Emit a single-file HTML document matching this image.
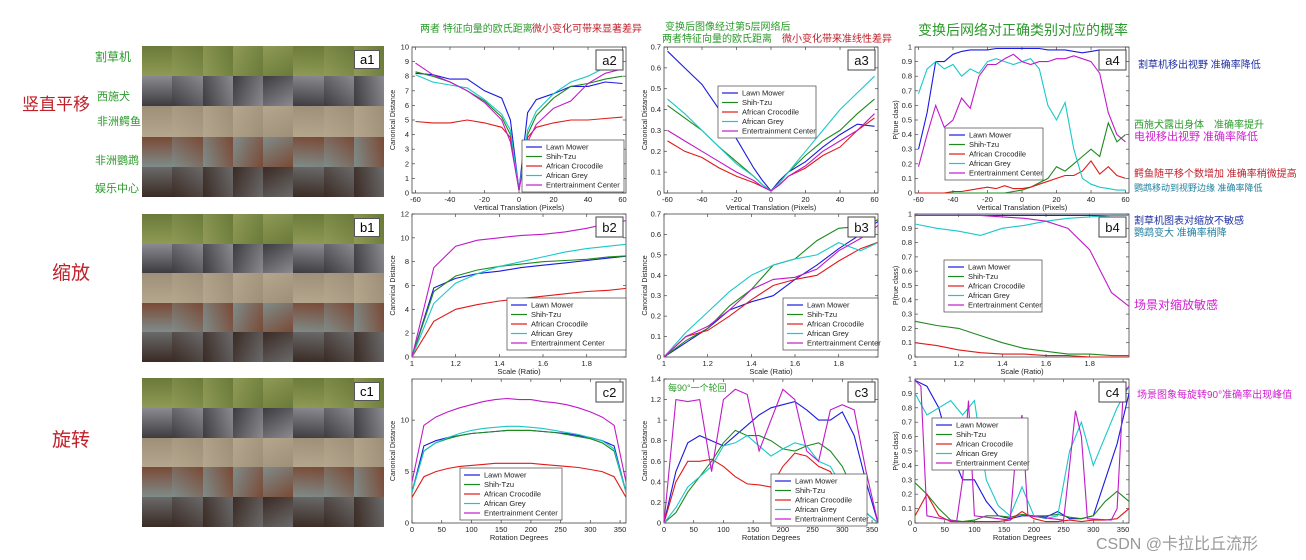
<!DOCTYPE html>
<html><head><meta charset="utf-8"><style>
body{margin:0;background:#fff;width:1306px;height:560px;overflow:hidden;position:relative;font-family:"Liberation Sans","Noto Sans CJK SC",sans-serif}
.hw{position:absolute;font-family:"Liberation Sans","Noto Sans CJK SC",sans-serif;white-space:nowrap}
.grid{position:absolute;display:grid;grid-template-columns:repeat(8,1fr);grid-template-rows:repeat(5,1fr)}
.tag{position:absolute;background:#fff;border:1px solid #555;font-size:13px;padding:1px 5px;font-family:"Liberation Sans",sans-serif}
</style></head><body>
<svg id="chart" width="1306" height="560" style="position:absolute;left:0;top:0"></svg>
<div class="hw" style="left:95px;top:48px;color:#2a9a2a;font-size:12px">割草机</div>
<div class="hw" style="left:97px;top:88px;color:#2a9a2a;font-size:11px">西施犬</div>
<div class="hw" style="left:97px;top:113px;color:#2a9a2a;font-size:11px">非洲鳄鱼</div>
<div class="hw" style="left:95px;top:152px;color:#2a9a2a;font-size:11px">非洲鹦鹉</div>
<div class="hw" style="left:95px;top:180px;color:#2a9a2a;font-size:11px">娱乐中心</div>
<div class="hw" style="left:22px;top:90px;color:#c0202a;font-size:17px">竖直平移</div>
<div class="hw" style="left:52px;top:258px;color:#c0202a;font-size:19px">缩放</div>
<div class="hw" style="left:52px;top:425px;color:#c0202a;font-size:19px">旋转</div>
<div class="hw" style="left:420px;top:20px;color:#2a9a2a;font-size:10px">两者 特征向量的欧氏距离</div>
<div class="hw" style="left:532px;top:20px;color:#c0202a;font-size:10px">微小变化可带来显著差异</div>
<div class="hw" style="left:665px;top:18px;color:#2a9a2a;font-size:10px">变换后图像经过第5层网络后</div>
<div class="hw" style="left:662px;top:30px;color:#2a9a2a;font-size:10px">两者特征向量的欧氏距离</div>
<div class="hw" style="left:782px;top:30px;color:#c0202a;font-size:10px">微小变化带来准线性差异</div>
<div class="hw" style="left:918px;top:20px;color:#2a9a2a;font-size:14px">变换后网络对正确类别对应的概率</div>
<div class="hw" style="left:1138px;top:56px;color:#2030a0;font-size:10px">割草机移出视野 准确率降低</div>
<div class="hw" style="left:1134px;top:116px;color:#2a9a2a;font-size:10px">西施犬露出身体　准确率提升</div>
<div class="hw" style="left:1134px;top:128px;color:#d020d0;font-size:11px">电视移出视野 准确率降低</div>
<div class="hw" style="left:1134px;top:165px;color:#c0202a;font-size:10px">鳄鱼随平移个数增加 准确率稍微提高</div>
<div class="hw" style="left:1134px;top:181px;color:#2080a0;font-size:9px">鹦鹉移动到视野边缘 准确率降低</div>
<div class="hw" style="left:1134px;top:212px;color:#2030a0;font-size:10px">割草机图表对缩放不敏感</div>
<div class="hw" style="left:1134px;top:224px;color:#2080a0;font-size:10px">鹦鹉变大 准确率稍降</div>
<div class="hw" style="left:1134px;top:296px;color:#d020d0;font-size:12px">场景对缩放敏感</div>
<div class="hw" style="left:1137px;top:386px;color:#d020d0;font-size:10px">场景图象每旋转90°准确率出现峰值</div>
<div class="hw" style="left:668px;top:381px;color:#2a9a2a;font-size:9px">每90°一个轮回</div>
<div class="hw" style="left:1096px;top:530px;color:#999;font-size:16px">CSDN @卡拉比丘流形</div>
<script>
const NS='http://www.w3.org/2000/svg';
const svg=document.getElementById('chart');
const names=['Lawn Mower','Shih-Tzu','African Crocodile','African Grey','Entertrainment Center'];
const colors=['#1a1ae0','#1e8a1e','#e01a1a','#1ac8c8','#c01ac8'];
// ---- data ----
const xsTrans=[-60,-50,-40,-30,-20,-10,-5,0,5,10,20,30,40,50,60];
const a2LM=[8.2,8.1,7.8,7.8,7.0,6.5,5.0,0.2,5.5,6.4,6.8,7.3,7.3,7.6,7.5];
const a2ST=[8.3,8.0,7.6,7.0,6.3,5.2,4.0,0.2,4.0,5.3,6.5,7.3,7.5,7.8,8.0];
const a2AC=[4.9,4.8,4.8,5.0,4.8,4.5,3.8,0.2,3.8,4.5,4.8,5.0,5.0,5.1,5.2];
const a2AG=[8.1,7.6,7.4,7.2,6.4,5.4,4.3,0.2,4.3,5.6,6.8,7.6,8.0,8.6,9.0];
const a2EC=[8.9,8.1,7.6,7.0,6.2,5.0,3.5,0.2,3.5,4.7,5.8,6.3,7.5,8.2,8.5];
const a3LM=[0.68,0.6,0.52,0.4,0.26,0.12,0.06,0.01,0.06,0.1,0.15,0.22,0.28,0.33,0.32];
const a3ST=[0.42,0.36,0.3,0.22,0.15,0.08,0.04,0.01,0.05,0.1,0.18,0.25,0.3,0.38,0.45];
const a3AC=[0.25,0.2,0.17,0.12,0.08,0.05,0.03,0.01,0.04,0.08,0.12,0.18,0.22,0.3,0.36];
const a3AG=[0.45,0.38,0.3,0.22,0.14,0.08,0.04,0.01,0.05,0.1,0.2,0.3,0.4,0.48,0.56];
const a3EC=[0.3,0.25,0.2,0.15,0.1,0.06,0.03,0.01,0.04,0.08,0.13,0.2,0.25,0.3,0.38];
const xsTrans5=[-60,-55,-50,-45,-40,-35,-30,-25,-20,-15,-10,-5,0,5,10,15,20,25,30,35,40,45,50,55,60];
const a4LM=[0.3,0.55,0.9,0.9,0.95,0.97,0.98,0.98,0.98,0.99,0.99,0.99,0.99,0.99,0.99,0.98,0.98,0.98,0.97,0.96,0.97,0.98,0.97,0.97,0.97];
const a4ST=[0,0,0,0,0,0,0,0,0,0,0,0.01,0.02,0.04,0.07,0.1,0.18,0.15,0.2,0.25,0.3,0.25,0.48,0.35,0.4];
const a4AC=[0,0,0,0,0.01,0.01,0.02,0.03,0.04,0.03,0.05,0.03,0.03,0.04,0.06,0.08,0.1,0.12,0.12,0.15,0.22,0.13,0.18,0.12,0.1];
const a4AG=[0.68,0.85,0.9,0.85,0.88,0.8,0.85,0.82,0.9,0.92,0.9,0.88,0.9,0.92,0.85,0.6,0.5,0.62,0.3,0.1,0.06,0.04,0.03,0.02,0.02];
const a4EC=[0.18,0.4,0.6,0.45,0.5,0.65,0.58,0.8,0.88,0.88,0.92,0.95,0.9,0.88,0.9,0.9,0.92,0.92,0.94,0.92,0.9,0.82,0.55,0.4,0.35];
const xsScale=[1,1.1,1.2,1.3,1.4,1.5,1.6,1.7,1.8,1.9,2.0];
const b2LM=[0,5.8,6.6,7.0,7.2,7.5,7.7,7.9,8.1,8.3,8.5];
const b2ST=[0,5.5,6.8,7.3,7.6,7.8,8.0,8.1,8.2,8.4,8.5];
const b2AC=[0,3.0,4.0,4.4,4.7,4.9,5.1,5.3,5.5,5.6,5.8];
const b2AG=[0,4.5,6.2,7.0,7.6,8.0,8.4,8.8,9.1,9.3,9.5];
const b2EC=[0,7.5,9.3,9.8,10,10.2,10.3,10.5,10.8,11.2,11.5];
const b3LM=[0,0.07,0.14,0.23,0.27,0.3,0.38,0.45,0.53,0.6,0.68];
const b3ST=[0,0.08,0.14,0.25,0.33,0.45,0.48,0.57,0.63,0.64,0.68];
const b3AC=[0,0.1,0.13,0.2,0.28,0.35,0.38,0.4,0.47,0.53,0.57];
const b3AG=[0,0.12,0.22,0.32,0.4,0.45,0.48,0.5,0.56,0.52,0.57];
const b3EC=[0,0.1,0.15,0.23,0.33,0.38,0.39,0.43,0.52,0.58,0.66];
const b4LM=[0.99,0.99,0.99,0.99,0.99,0.99,0.99,0.99,0.99,0.99,0.99];
const b4ST=[0.25,0.22,0.2,0.15,0.1,0.06,0.04,0.02,0.02,0.01,0.01];
const b4AC=[0.1,0.08,0.05,0.03,0.02,0.02,0.01,0.01,0,0,0];
const b4AG=[0.93,0.9,0.88,0.85,0.9,0.92,0.95,0.97,0.98,0.99,0.99];
const b4EC=[0.99,0.99,0.99,0.99,0.98,0.97,0.95,0.9,0.75,0.45,0.33];
const xsRot=[0,20,40,60,80,100,120,140,160,180,200,220,240,260,280,300,320,340,360];
const c2LM=[3,7.5,8,8.3,8.5,8.7,8.8,8.9,9,9,9,8.9,8.8,8.7,8.5,8.3,8,7.5,3];
const c2ST=[3,7,7.8,8.2,8.5,8.7,8.8,8.9,9,9,9,8.9,8.8,8.6,8.4,8.2,7.8,7,3];
const c2AC=[2.5,4.5,5,5.3,5.5,5.6,5.7,5.8,5.8,5.8,5.8,5.7,5.6,5.5,5.4,5.2,5,4.5,2.5];
const c2AG=[3,7,7.8,8.3,8.7,9,9.2,9.3,9.4,9.4,9.3,9.2,9,8.8,8.6,8.3,8,7.2,3];
const c2EC=[4,9.5,10.3,10.8,11.2,11.5,11.8,12,12.1,12,12,11.8,11.7,11.5,11.2,10.8,10.3,9.5,4];
const c3LM=[0,0.5,0.78,0.85,0.8,0.75,0.85,0.95,1.05,1.12,1.15,1.18,1.1,1.0,1.0,1.08,0.85,0.4,0];
const c3ST=[0,0.1,0.3,0.45,0.6,0.78,0.9,0.85,0.85,0.8,0.72,0.7,0.75,0.78,0.7,0.55,0.3,0.1,0];
const c3AC=[0,0.4,0.6,0.6,0.62,0.55,0.45,0.38,0.37,0.35,0.55,0.68,0.65,0.55,0.5,0.3,0.2,0.1,0];
const c3AG=[0,0.15,0.35,0.45,0.55,0.75,0.78,0.85,0.75,0.65,0.72,0.78,0.75,0.6,0.55,0.35,0.2,0.1,0];
const c3EC=[0,1.2,1.18,1.2,0.5,1.2,1.3,1.25,0.7,1.0,1.3,1.2,0.7,0.6,1.1,1.15,1.1,0.5,0];
const c4LM=[0.99,0.95,0.8,0.5,0.3,0.3,0.15,0.05,0.03,0.05,0.05,0.04,0.08,0.03,0.03,0.05,0.3,0.55,0.9];
const c4ST=[0.28,0.2,0.1,0.02,0.01,0.02,0.05,0.05,0.04,0.06,0.05,0.05,0.06,0.04,0.03,0.05,0.15,0.22,0.15];
const c4AC=[0.05,0.2,0.05,0.01,0.01,0.01,0.01,0.01,0.02,0.08,0.03,0.01,0.01,0.02,0.01,0.02,0.02,0.03,0.1];
const c4AG=[0.9,0.75,0.8,0.85,0.75,0.85,0.3,0.12,0.05,0.25,0.05,0.03,0.05,0.5,0.7,0.4,0.6,0.8,0.95];
const xsRotEC=[0,10,20,70,80,90,100,160,170,180,190,250,260,270,280,290,330,340,350,360];
const c4EC=[0.99,0.95,0.05,0.01,0.3,0.85,0.05,0.02,0.5,0.75,0.05,0.02,0.4,0.78,0.6,0.03,0.02,0.1,0.9,0.95];
const ticksTrans=[-60,-40,-20,0,20,40,60];
const ticksScale=[1,1.2,1.4,1.6,1.8];
const ticksRot=[0,50,100,150,200,250,300,350];
// ---- helpers ----
function mk(tag,attrs,parent){const e=document.createElementNS(NS,tag);for(const k in attrs)e.setAttribute(k,attrs[k]);(parent||svg).appendChild(e);return e;}
function fmt(v){return (Math.round(v*100)/100).toString();}
const defsEl=mk('defs',{});
function chart(c){
  const g=mk('g',{});
  
  
  const sx=v=>c.L+(v-c.xmin)/(c.xmax-c.xmin)*(c.R-c.L);
  const sy=v=>c.B-(v-c.ymin)/(c.ymax-c.ymin)*(c.B-c.T);
  const cp=mk('clipPath',{id:'clip-'+c.id},defsEl);
  mk('rect',{x:c.L,y:c.T-1,width:c.R-c.L,height:c.B-c.T+2},cp);
  mk('rect',{x:c.L,y:c.T,width:c.R-c.L,height:c.B-c.T,fill:'#fff',stroke:'#444','stroke-width':0.8},g);
  c.xt.forEach(t=>{const x=sx(t);mk('line',{x1:x,x2:x,y1:c.B,y2:c.B-3,stroke:'#444','stroke-width':0.7},g);mk('line',{x1:x,x2:x,y1:c.T,y2:c.T+3,stroke:'#444','stroke-width':0.7},g);
    const tx=mk('text',{x:x,y:c.B+9,'font-size':7.5,'text-anchor':'middle',fill:'#222'},g);tx.textContent=fmt(t);});
  c.yt.forEach(t=>{const y=sy(t);mk('line',{x1:c.L,x2:c.L+3,y1:y,y2:y,stroke:'#444','stroke-width':0.7},g);mk('line',{x1:c.R,x2:c.R-3,y1:y,y2:y,stroke:'#444','stroke-width':0.7},g);
    const tx=mk('text',{x:c.L-3,y:y+2.5,'font-size':7.5,'text-anchor':'end',fill:'#222'},g);tx.textContent=fmt(t);});
  const xl=mk('text',{x:(c.L+c.R)/2,y:c.B+17,'font-size':7.5,'text-anchor':'middle',fill:'#222'},g);xl.textContent=c.xlabel;
  
  
  const yl=mk('text',{x:0,y:0,'font-size':7,'text-anchor':'middle',fill:'#222',transform:`translate(${c.L-17},${(c.T+c.B)/2}) rotate(-90)`},g);yl.textContent=c.ylabel;
  
  
  const sg=mk('g',{'clip-path':'url(#clip-'+c.id+')'},g);
  c.series.forEach((s,i)=>{
    const xs=c.xsArr[i]||c.xs;
    const d=s.map((v,j)=>(j?'L':'M')+sx(xs[j]).toFixed(1)+','+sy(v).toFixed(1)).join('');
    const p=mk('path',{d:d,fill:'none',stroke:colors[i],'stroke-width':1.1},sg);
    
    
  });
  const lg=mk('g',{},g);
  
  
  mk('rect',{x:c.lx,y:c.ly,width:c.lw,height:52,fill:'#fff',stroke:'#444','stroke-width':0.7},lg);
  names.forEach((n,i)=>{const y=c.ly+7+i*9.5;mk('line',{x1:c.lx+4,x2:c.lx+20,y1:y,y2:y,stroke:colors[i],'stroke-width':1.2},lg);
    const t=mk('text',{x:c.lx+24,y:y+2.7,'font-size':7.5,fill:'#222'},lg);t.textContent=n;
    
    });
  const tg=mk('g',{},g);
  
  
  mk('rect',{x:c.R-30,y:c.T+3,width:27,height:20,fill:'#fff',stroke:'#444','stroke-width':1},tg);
  const lt=mk('text',{x:c.R-16.5,y:c.T+18,'font-size':13,'text-anchor':'middle',fill:'#111'},tg);lt.textContent=c.id;
}
const cols=[[412,626],[664,878],[915,1129]];
const rows=[[47,193],[214,357],[379,523]];
const ts='Vertical Translation (Pixels)', ss='Scale (Ratio)', rs='Rotation Degrees';
const cd='Canonical Distance', pt='P(true class)';
const y10=[0,1,2,3,4,5,6,7,8,9,10], y07=[0,0.1,0.2,0.3,0.4,0.5,0.6,0.7], y1=[0,0.1,0.2,0.3,0.4,0.5,0.6,0.7,0.8,0.9,1];
const defs=[
 {id:'a2',c:0,r:0,xs:xsTrans,xmin:-62,xmax:62,ymin:0,ymax:10,xt:ticksTrans,yt:y10,xlabel:ts,ylabel:cd,series:[a2LM,a2ST,a2AC,a2AG,a2EC],lx:522,ly:140,lw:102},
 {id:'a3',c:1,r:0,xs:xsTrans,xmin:-62,xmax:62,ymin:0,ymax:0.7,xt:ticksTrans,yt:y07,xlabel:ts,ylabel:cd,series:[a3LM,a3ST,a3AC,a3AG,a3EC],lx:718,ly:86,lw:98},
 {id:'a4',c:2,r:0,xs:xsTrans5,xmin:-62,xmax:62,ymin:0,ymax:1,xt:ticksTrans,yt:y1,xlabel:ts,ylabel:pt,series:[a4LM,a4ST,a4AC,a4AG,a4EC],lx:945,ly:128,lw:98},
 {id:'b2',c:0,r:1,xs:xsScale,xmin:1,xmax:1.98,ymin:0,ymax:12,xt:ticksScale,yt:[0,2,4,6,8,10,12],xlabel:ss,ylabel:cd,series:[b2LM,b2ST,b2AC,b2AG,b2EC],lx:507,ly:298,lw:119},
 {id:'b3',c:1,r:1,xs:xsScale,xmin:1,xmax:1.98,ymin:0,ymax:0.7,xt:ticksScale,yt:y07,xlabel:ss,ylabel:cd,series:[b3LM,b3ST,b3AC,b3AG,b3EC],lx:783,ly:298,lw:95},
 {id:'b4',c:2,r:1,xs:xsScale,xmin:1,xmax:1.98,ymin:0,ymax:1,xt:ticksScale,yt:y1,xlabel:ss,ylabel:pt,series:[b4LM,b4ST,b4AC,b4AG,b4EC],lx:944,ly:260,lw:98},
 {id:'c2',c:0,r:2,xs:xsRot,xmin:0,xmax:360,ymin:0,ymax:14,xt:ticksRot,yt:[0,5,10],xlabel:rs,ylabel:cd,series:[c2LM,c2ST,c2AC,c2AG,c2EC],lx:460,ly:468,lw:102},
 {id:'c3',c:1,r:2,xs:xsRot,xmin:0,xmax:360,ymin:0,ymax:1.4,xt:ticksRot,yt:[0,0.2,0.4,0.6,0.8,1,1.2,1.4],xlabel:rs,ylabel:cd,series:[c3LM,c3ST,c3AC,c3AG,c3EC],lx:771,ly:474,lw:96},
 {id:'c4',c:2,r:2,xs:xsRot,xsArr:[null,null,null,null,xsRotEC],xmin:0,xmax:360,ymin:0,ymax:1,xt:ticksRot,yt:y1,xlabel:rs,ylabel:pt,series:[c4LM,c4ST,c4AC,c4AG,c4EC],lx:932,ly:418,lw:96}
];
defs.forEach(d=>{d.L=cols[d.c][0];d.R=cols[d.c][1];d.T=rows[d.r][0];d.B=rows[d.r][1];d.xsArr=d.xsArr||[];chart(d);});
// image grids
const rowCols=[['#8f9a55','#6a7a3a'],['#3c3c40','#8a8a90'],['#b5a78e','#9e8f78'],['#7f8c8a','#7a4a36'],['#3a2a24','#6a6a6a']];
[[142,46,197,'a1'],[142,214,362,'b1'],[142,378,527,'c1']].forEach(([x,t,b,lab])=>{
  const d=document.createElement('div');d.className='grid';
  
  
  d.style.cssText=`left:${x}px;top:${t}px;width:242px;height:${b-t}px`;
  for(let r=0;r<5;r++)for(let k=0;k<8;k++){const cdiv=document.createElement('div');const cc=rowCols[r];cdiv.style.background=`linear-gradient(${(k*37)%180}deg,${cc[0]},${cc[1]})`;d.appendChild(cdiv);}
  document.body.appendChild(d);
  const tg=document.createElement('div');tg.className='tag';tg.textContent=lab;
  
  
  tg.style.left=(x+212)+'px';tg.style.top=(t+4)+'px';document.body.appendChild(tg);
});
</script>
</body></html>
